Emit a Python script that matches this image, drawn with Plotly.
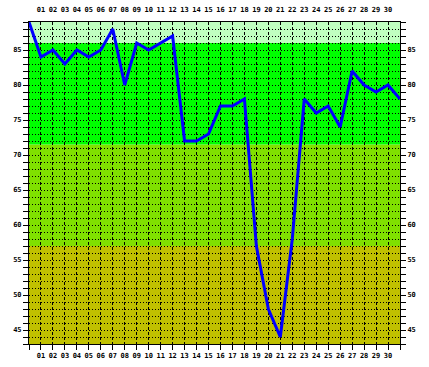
import plotly.graph_objects as go

days = list(range(0, 32))
values = [89, 84, 85, 83, 85, 84, 85, 88, 80, 86, 85, 86, 87, 72, 72, 73,
          77, 77, 78, 57, 48, 44, 58, 78, 76, 77, 74, 82, 80, 79, 80, 78]
x_tick_vals = list(range(0, 32))
x_tick_text = ["" if d in (0, 31) else f"{d:02d}" for d in x_tick_vals]
y_tick_vals = list(range(43, 90))
y_tick_text = [str(v) if v % 5 == 0 else "" for v in y_tick_vals]
band_edges = [43, 57, 71.5, 86, 89]
band_colors = ["#c0c000", "#80e000", "#00ff00", "#c0ffc0"]

X_RANGE = [0, 31]
Y_RANGE = [43, 89]
font = dict(family="DejaVu Sans Mono", size=7, color="black", weight="bold")

fig = go.Figure()
fig.add_trace(go.Scatter(x=days, y=values, mode="lines",
                         line=dict(color="#0000ff", width=3),
                         hoverinfo="skip", showlegend=False))
# invisible trace to anchor the mirrored (top/right) axes
fig.add_trace(go.Scatter(x=[days[0]], y=[values[0]], mode="markers",
                         marker=dict(opacity=0), xaxis="x2", yaxis="y2",
                         hoverinfo="skip", showlegend=False))

shapes = []
for i, c in enumerate(band_colors):
    shapes.append(dict(type="rect", xref="paper", yref="y", x0=0, x1=1,
                       y0=band_edges[i], y1=band_edges[i + 1],
                       fillcolor=c, line=dict(width=0), layer="below"))

fig.update_layout(
    width=429, height=367,
    margin=dict(l=29, r=29, t=22, b=23),
    paper_bgcolor="white", plot_bgcolor="white",
    shapes=shapes,
    font=font,
    xaxis=dict(range=X_RANGE, tickmode="array", tickvals=x_tick_vals,
               ticktext=x_tick_text, ticks="outside", ticklen=5,
               tickcolor="black", tickwidth=1, automargin=False,
               showgrid=True, gridcolor="black", gridwidth=1, griddash="3px,2px",
               showline=True, linecolor="black", linewidth=1, mirror=True,
               zeroline=False, tickfont=font, fixedrange=True),
    xaxis2=dict(range=X_RANGE, overlaying="x", side="top", tickmode="array",
                tickvals=x_tick_vals, ticktext=x_tick_text, ticks="outside",
                ticklen=6, tickcolor="rgba(0,0,0,0)", showgrid=False,
                automargin=False,
                zeroline=False, tickfont=font, anchor="y2"),
    yaxis=dict(range=Y_RANGE, tickmode="array", tickvals=y_tick_vals,
               ticktext=y_tick_text, ticks="outside", ticklen=5,
               tickcolor="black", tickwidth=1, automargin=False,
               showgrid=True, gridcolor="black", gridwidth=1, griddash="1px,2px",
               showline=True, linecolor="black", linewidth=1, mirror=True,
               zeroline=False, tickfont=font, fixedrange=True),
    yaxis2=dict(range=Y_RANGE, overlaying="y", side="right", tickmode="array",
                tickvals=y_tick_vals, ticktext=y_tick_text, ticks="outside",
                ticklen=5, tickcolor="black", showgrid=False, zeroline=False,
                automargin=False,
                tickfont=font, anchor="x2"),
)

fig.write_html("out.html", config={"displayModeBar": False},
               post_script="document.body.style.margin='0';document.body.style.padding='0';")
